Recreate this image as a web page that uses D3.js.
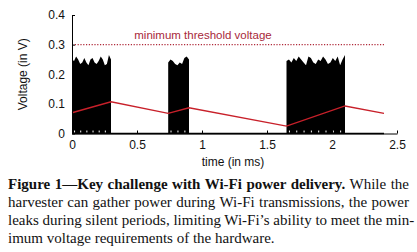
<!DOCTYPE html>
<html>
<head>
<meta charset="utf-8">
<script src="https://cdn.jsdelivr.net/npm/d3@7"></script>
<style>
  body { margin: 0; background: #fff; width: 417px; height: 252px; overflow: hidden; position: relative; }
  #chart { position: absolute; left: 0; top: 0; }
  .caption {
    position: absolute; left: 8px; top: 175px; width: 401px;
    font-family: "Liberation Serif", "Times New Roman", serif;
    font-size: 15px; line-height: 18px; color: #111;
  }
  .caption span.l { display: block; text-align: justify; text-align-last: justify; white-space: nowrap; }
  .caption span.last { display: block; text-align: left; }
</style>
</head>
<body>
<div id="chart"></div>
<div class="caption" id="caption"></div>
<script>
document.addEventListener("DOMContentLoaded", function () {
  // data
  const xTicks = [0, 0.5, 1, 1.5, 2, 2.5];
  const yTicks = [0, 0.1, 0.2, 0.3, 0.4];
  const threshold = 0.3;
  const thresholdLabel = "minimum threshold voltage";

  // capacitor voltage (red line): time in ms, voltage in V
  const redT = [0, 0.3, 0.74, 0.9, 1.65, 2.1, 2.4];
  const redV = [0.07, 0.107, 0.068, 0.087, 0.025, 0.093, 0.068];

  // Wi-Fi bursts: start, end and the jagged peak envelope
  const bursts = [
    { start: 0, end: 0.3,
      peaks: [0.25, 0.245, 0.26, 0.25, 0.235, 0.24, 0.255, 0.24, 0.23, 0.25, 0.255, 0.24, 0.235, 0.245, 0.26, 0.25, 0.23, 0.235, 0.265, 0.25] },
    { start: 0.74, end: 0.9,
      peaks: [0.24, 0.25, 0.245, 0.235, 0.23, 0.24, 0.235, 0.255, 0.26, 0.25] },
    { start: 1.65, end: 2.1,
      peaks: [0.245, 0.25, 0.24, 0.255, 0.245, 0.26, 0.25, 0.24, 0.23, 0.26, 0.255, 0.24, 0.235, 0.25, 0.245, 0.26, 0.25, 0.235, 0.24, 0.255, 0.245, 0.26, 0.23, 0.25, 0.265] }
  ];

  const captionLines = [
    { bold: "Figure 1\u2014Key challenge with Wi-Fi power delivery.", text: " While the" },
    { text: "harvester can gather power during Wi-Fi transmissions, the power" },
    { text: "leaks during silent periods, limiting Wi-Fi\u2019s ability to meet the min-" },
    { text: "imum voltage requirements of the hardware.", last: true }
  ];

  const W = 417, H = 172;
  const svg = d3.select("#chart").append("svg")
    .attr("width", W).attr("height", H)
    .style("font-family", "'Liberation Sans', Arial, sans-serif");

  const x = d3.scaleLinear().domain([0, 2.5]).range([72, 397]);
  const y = d3.scaleLinear().domain([0, 0.4]).range([133.5, 15]);

  // bursts
  const area = d3.area()
    .x(d => d[0]).y0(y(0)).y1(d => d[1]);
  bursts.forEach(b => {
    const n = b.peaks.length;
    const pts = b.peaks.map((v, i) => [x(b.start + (b.end - b.start) * i / (n - 1)), y(v)]);
    svg.append("path")
      .attr("d", area(pts))
      .attr("fill", "#000");
    // tiny white specks near the base
    b.peaks.forEach((v, i) => {
      if (i % 3 === 1) {
        svg.append("rect")
          .attr("x", x(b.start + (b.end - b.start) * i / (n - 1)))
          .attr("y", y(0.01))
          .attr("width", 1).attr("height", 2)
          .attr("fill", "#fff");
      }
    });
  });

  // black baseline under data
  svg.append("line")
    .attr("x1", x(0)).attr("x2", x(2.4))
    .attr("y1", y(0)).attr("y2", y(0))
    .attr("stroke", "#000").attr("stroke-width", 1.5);

  // threshold
  svg.append("line")
    .attr("x1", x(0)).attr("x2", x(2.4))
    .attr("y1", y(threshold)).attr("y2", y(threshold))
    .attr("stroke", "#b02a3a").attr("stroke-width", 1.2)
    .attr("stroke-dasharray", "1.2,1.6");
  svg.append("text")
    .attr("x", 203).attr("y", y(threshold) - 6)
    .attr("text-anchor", "middle")
    .attr("font-size", 11.5)
    .attr("fill", "#a8283a")
    .text(thresholdLabel);

  // red voltage line
  const line = d3.line().x(d => x(d[0])).y(d => y(d[1]));
  svg.append("path")
    .attr("d", line(redT.map((t, i) => [t, redV[i]])))
    .attr("fill", "none")
    .attr("stroke", "#c8202a")
    .attr("stroke-width", 1.4);

  // axes
  const xAxis = svg.append("g")
    .attr("transform", `translate(0,${y(0)})`)
    .call(d3.axisBottom(x).tickValues(xTicks).tickSizeInner(-3).tickSizeOuter(0).tickPadding(7)
      .tickFormat(d3.format("")));
  const yAxis = svg.append("g")
    .attr("transform", `translate(${x(0)},0)`)
    .call(d3.axisLeft(y).tickValues(yTicks).tickSizeInner(-3).tickSizeOuter(0).tickPadding(7)
      .tickFormat(d => d === 0 ? "0" : d3.format(".1f")(d)));
  [xAxis, yAxis].forEach(g => {
    g.selectAll("text").attr("font-size", 12).attr("fill", "#111")
      .attr("font-family", "'Liberation Sans', Arial, sans-serif");
    g.select(".domain").attr("stroke", "#000");
    g.selectAll(".tick line").attr("stroke", "#000");
  });

  svg.append("text")
    .attr("transform", `translate(27,${(y(0) + y(0.4)) / 2}) rotate(-90)`)
    .attr("text-anchor", "middle")
    .attr("font-size", 12).attr("fill", "#111")
    .text("Voltage (in V)");
  svg.append("text")
    .attr("x", 233).attr("y", 166)
    .attr("text-anchor", "middle")
    .attr("font-size", 12).attr("fill", "#111")
    .text("time (in ms)");

  // caption
  const cap = d3.select("#caption");
  captionLines.forEach(l => {
    const s = cap.append("span").attr("class", l.last ? "last" : "l");
    if (l.bold) s.append("b").text(l.bold);
    s.append("span").text(l.text);
  });
});
</script>
</body>
</html>
